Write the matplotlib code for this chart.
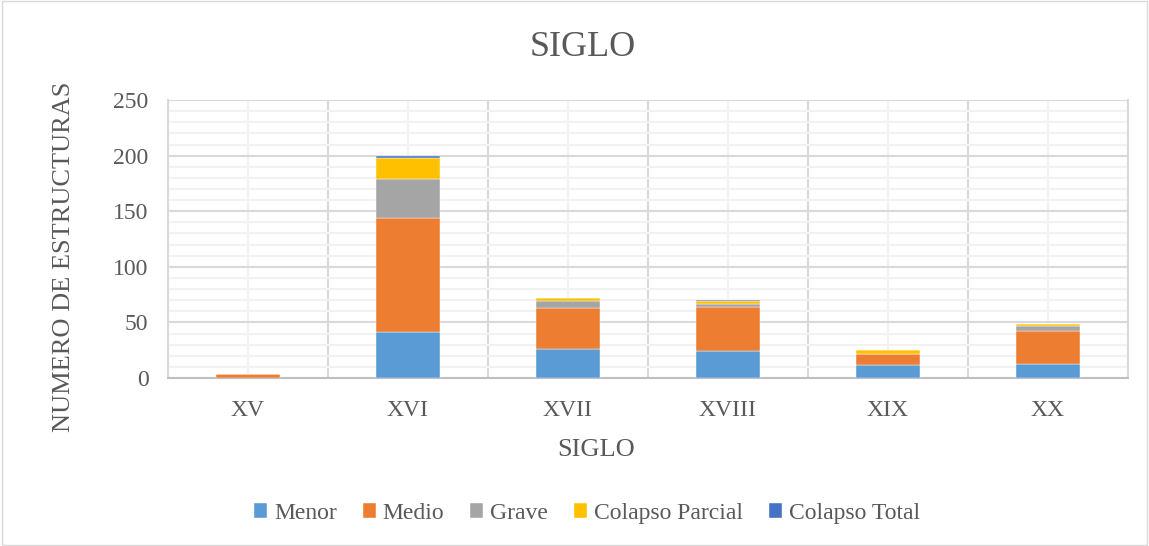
import numpy as np
import matplotlib
matplotlib.use("Agg")
import matplotlib.pyplot as plt
from matplotlib.patches import Rectangle

# Datos
siglos = ["XV", "XVI", "XVII", "XVIII", "XIX", "XX"]
menor = [0, 41, 26, 24, 12, 13]
medio = [4, 103, 37, 40, 10, 29]
grave = [0, 35, 6, 3, 0, 5]
colapso_parcial = [0, 19, 3, 2, 3, 2]
colapso_total = [0, 2, 0, 1, 0, 0]

series = ["Menor", "Medio", "Grave", "Colapso Parcial", "Colapso Total"]
colores = ["#5B9BD5", "#ED7D31", "#A5A5A5", "#FFC000", "#4472C4"]

plt.rcParams["font.family"] = ["Liberation Serif", "DejaVu Serif"]
texto = "#595959"

fig = plt.figure(figsize=(11.49, 5.46), dpi=100)
fig.patches.append(Rectangle((0.002, 0.002), 0.996, 0.996, transform=fig.transFigure,
                             fill=False, edgecolor="#D9D9D9", linewidth=1))
ax = fig.add_axes([0.1462, 0.3077, 0.8355, 0.5091])

x = np.arange(len(siglos))
base = np.zeros(len(siglos))
for nombre, valores, color in zip(series, [menor, medio, grave, colapso_parcial, colapso_total], colores):
    ax.bar(x, valores, width=0.4, bottom=base, color=color, label=nombre,
           edgecolor="white", linewidth=0.3, zorder=3)
    base += np.array(valores)

ax.set_xlim(-0.5, len(siglos) - 0.5)
ax.set_ylim(0, 250)
ax.set_yticks(np.arange(0, 251, 50))
ax.set_yticks(np.arange(0, 251, 10), minor=True)
ax.set_xticks(x)
ax.set_xticklabels(siglos)
ax.set_xticks(np.arange(-0.5, len(siglos)), minor=True)

ax.grid(which="minor", axis="y", color="#F2F2F2", linewidth=1.5, zorder=0)
ax.grid(which="major", axis="y", color="#D9D9D9", linewidth=1.5, zorder=1)
ax.grid(which="major", axis="x", color="#F2F2F2", linewidth=1.5, zorder=0)
ax.grid(which="minor", axis="x", color="#D9D9D9", linewidth=1.5, zorder=1)
ax.set_axisbelow(True)

for lado in ["left", "right"]:
    ax.spines[lado].set_color("#D9D9D9")
    ax.spines[lado].set_linewidth(1.5)
ax.spines["top"].set_visible(False)
ax.spines["bottom"].set_color("#BFBFBF")
ax.spines["bottom"].set_linewidth(1.5)

ax.tick_params(which="both", length=0)
ax.tick_params(axis="y", labelsize=17, labelcolor=texto, pad=14)
ax.tick_params(axis="x", labelsize=17, labelcolor=texto, pad=16)

# Titulos centrados respecto a la figura, como en el original
fig.text(0.507, 0.913, "SIGLO", fontsize=26, color=texto, ha="center", va="center")
fig.text(0.519, 0.175, "SIGLO", fontsize=19, color=texto, ha="center", va="center")
ax.set_ylabel("NUMERO DE ESTRUCTURAS", fontsize=19, color=texto)
ax.yaxis.set_label_coords(-0.097, 0.435)

leg = fig.legend(loc="center", bbox_to_anchor=(0.511, 0.06), ncol=5, frameon=False,
                 fontsize=17, handlelength=0.55, handleheight=0.55, handletextpad=0.3,
                 columnspacing=1.1)
for t in leg.get_texts():
    t.set_color(texto)

fig.savefig("out.png", dpi=100)
